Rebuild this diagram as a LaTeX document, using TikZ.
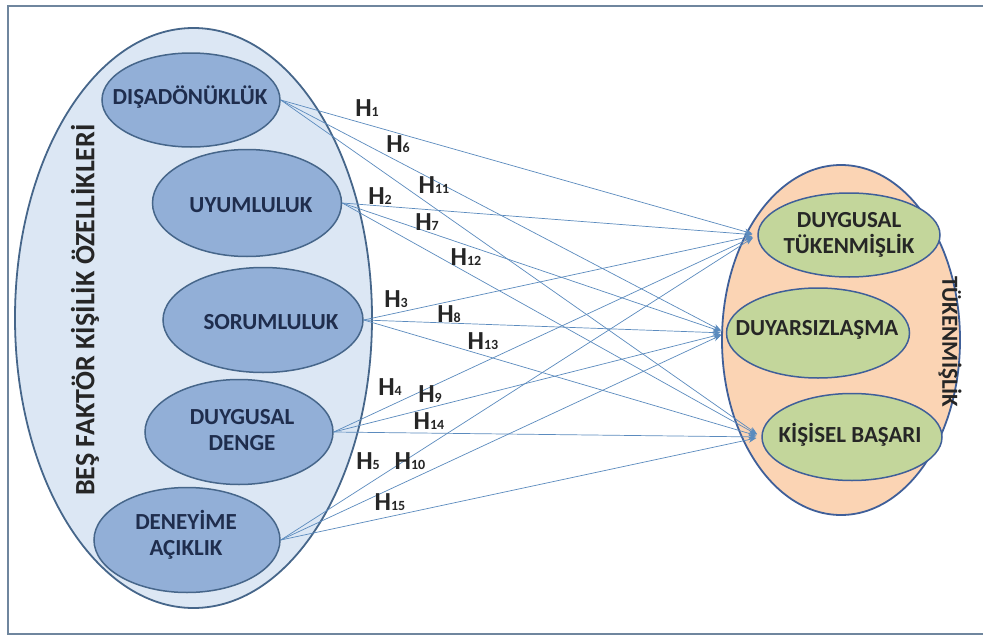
\documentclass[tikz,border=0pt]{standalone}
\usepackage{fontspec}
\setmainfont{Carlito}
\usetikzlibrary{shapes.geometric,arrows.meta}

\definecolor{framegray}{HTML}{6F869E}
\definecolor{paleblue}{HTML}{DCE7F4}
\definecolor{midblue}{HTML}{92AFD7}
\definecolor{steel}{HTML}{46668A}
\definecolor{peach}{HTML}{FBD4B4}
\definecolor{olive}{HTML}{C3D69B}
\definecolor{rimblue}{HTML}{3F5F99}
\definecolor{linkblue}{HTML}{5B8BBE}
\definecolor{navy}{HTML}{1F2D4D}

\tikzset{
  group/.style={ellipse, line width=1.8pt, inner sep=0pt},
  trait/.style={ellipse, draw=steel, fill=midblue, line width=1.5pt, inner sep=0pt},
  burn/.style={ellipse, draw=rimblue, fill=olive, line width=1.5pt, inner sep=0pt},
  ttext/.style={font=\fontsize{23}{26}\selectfont\bfseries, text=navy, align=center, inner sep=0pt},
  btext/.style={font=\fontsize{23}{26}\selectfont\bfseries, text=black!85, align=center, inner sep=0pt},
  link/.style={draw=linkblue, line width=0.7pt, -{Stealth[length=8pt,width=6pt]}, shorten >=5pt},
  hyp/.style={font=\fontsize{26}{26}\selectfont\bfseries, text=black!85, inner sep=0pt}
}
\newcommand{\hsub}[1]{H{\fontsize{14}{14}\selectfont #1}}

\begin{document}
\begin{tikzpicture}[x=1pt,y=-1pt]
      \useasboundingbox (0,0) rectangle (983,637);
      \clip (0,0) rectangle (983,637);
      \fill[white] (0,0) rectangle (983,637);
      \draw[framegray, line width=2.5pt] (8,6) rectangle (995,634);

      % groups
      \node[group, draw=steel, fill=paleblue, minimum width=357pt, minimum height=580pt] (five) at (193.5,318) {};
      \node[group, draw=rimblue, fill=peach, minimum width=238pt, minimum height=350pt] (burnout) at (841,340) {};
      \node[font=\fontsize{28}{28}\selectfont\bfseries, text=black!85, rotate=90] (five-t) at (85,310) {BEŞ FAKTÖR KİŞİLİK ÖZELLİKLERİ};
      \node[font=\fontsize{23}{23}\selectfont\bfseries, text=black!85, rotate=-90] (burnout-t) at (950,342) {TÜKENMİŞLİK};

      % personality traits
      \node[trait, minimum width=178pt, minimum height=94pt] (dis) at (191,100) {};
      \node[trait, minimum width=189pt, minimum height=107pt] (uyum) at (247,203) {};
      \node[trait, minimum width=200pt, minimum height=105pt] (sorum) at (263,320) {};
      \node[trait, minimum width=188pt, minimum height=105pt] (denge) at (239,432) {};
      \node[trait, minimum width=186pt, minimum height=105pt] (deney) at (187,540) {};
      \node[ttext] (dis-t) at (190,97) {DIŞADÖNÜKLÜK};
      \node[ttext] (uyum-t) at (251,205) {UYUMLULUK};
      \node[ttext] (sorum-t) at (271,322) {SORUMLULUK};
      \node[ttext] (denge-t) at (242,430) {DUYGUSAL\\DENGE};
      \node[ttext] (deney-t) at (186,535) {DENEYİME\\AÇIKLIK};

      % burnout dimensions
      \node[burn, minimum width=182pt, minimum height=84pt] (dt) at (849,235) {};
      \node[burn, minimum width=183pt, minimum height=90pt] (dy) at (818,333) {};
      \node[burn, minimum width=180pt, minimum height=87pt] (kb) at (852,437) {};
      \node[btext] (dt-t) at (849,235) {DUYGUSAL\\TÜKENMİŞLİK};
      \node[btext] (dy-t) at (817,330) {DUYARSIZLAŞMA};
      \node[btext] (kb-t) at (850,435) {KİŞİSEL BAŞARI};

      % hypotheses
      \draw[link] (dis.east) -- (dt.west);
      \draw[link] (dis.east) -- (dy.west);
      \draw[link] (dis.east) -- (kb.west);
      \draw[link] (uyum.east) -- (dt.west);
      \draw[link] (uyum.east) -- (dy.west);
      \draw[link] (uyum.east) -- (kb.west);
      \draw[link] (sorum.east) -- (dt.west);
      \draw[link] (sorum.east) -- (dy.west);
      \draw[link] (sorum.east) -- (kb.west);
      \draw[link] (denge.east) -- (dt.west);
      \draw[link] (denge.east) -- (dy.west);
      \draw[link] (denge.east) -- (kb.west);
      \draw[link] (deney.east) -- (dt.west);
      \draw[link] (deney.east) -- (dy.west);
      \draw[link] (deney.east) -- (kb.west);

      \node[hyp] (h1) at (367,108) {\hsub{1}};
      \node[hyp] (h2) at (380,196) {\hsub{2}};
      \node[hyp] (h3) at (396,299) {\hsub{3}};
      \node[hyp] (h4) at (390,387) {\hsub{4}};
      \node[hyp] (h5) at (368,461) {\hsub{5}};
      \node[hyp] (h6) at (398,144) {\hsub{6}};
      \node[hyp] (h7) at (427,222) {\hsub{7}};
      \node[hyp] (h8) at (449,314) {\hsub{8}};
      \node[hyp] (h9) at (430,394) {\hsub{9}};
      \node[hyp] (h10) at (410,461) {\hsub{10}};
      \node[hyp] (h11) at (434,185) {\hsub{11}};
      \node[hyp] (h12) at (466,257) {\hsub{12}};
      \node[hyp] (h13) at (483,341) {\hsub{13}};
      \node[hyp] (h14) at (429,421) {\hsub{14}};
      \node[hyp] (h15) at (390,502) {\hsub{15}};
\end{tikzpicture}
\end{document}
